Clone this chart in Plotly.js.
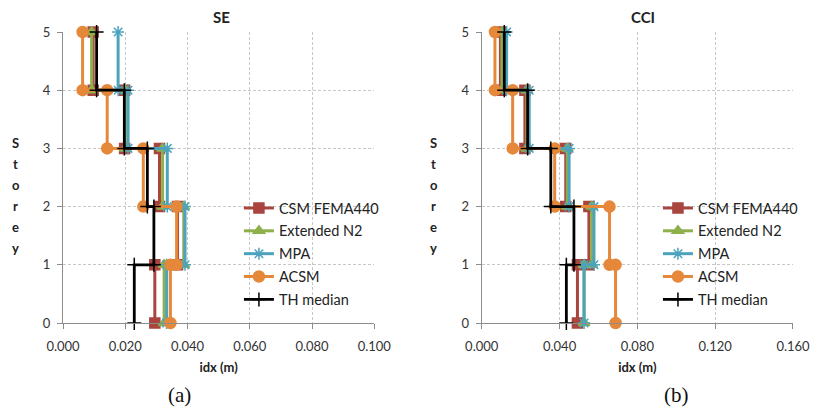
<!DOCTYPE html>
<html>
<head>
<meta charset="utf-8">
<script src="https://cdn.plot.ly/plotly-3.0.1.min.js"></script>
<style>
  html, body { margin: 0; padding: 0; background: #fff; }
  #chart { width: 815px; height: 410px; }
</style>
</head>
<body>
<div id="chart"></div>
<script>
// inter-storey drift per storey level (storey 1..5)
const storeys = [1, 2, 3, 4, 5]
const seriesNames = ["CSM FEMA440", "Extended N2", "MPA", "ACSM", "TH median"]

// (a) SE
const seCSM = [0.0295, 0.0368, 0.0310, 0.0198, 0.0097]
const seN2 = [0.0325, 0.0388, 0.0320, 0.0200, 0.0092]
const seMPA = [0.0333, 0.0392, 0.0335, 0.0209, 0.0177]
const seACSM = [0.0345, 0.0365, 0.0258, 0.0142, 0.0063]
const seTH = [0.0229, 0.0292, 0.0271, 0.0197, 0.0108]

// (b) CCI
const cciCSM = [0.0492, 0.0551, 0.0432, 0.0222, 0.0096]
const cciN2 = [0.0526, 0.0565, 0.0440, 0.0232, 0.0104]
const cciMPA = [0.0526, 0.0577, 0.0449, 0.0244, 0.0128]
const cciACSM = [0.0688, 0.0657, 0.0375, 0.0159, 0.0068]
const cciTH = [0.0435, 0.0474, 0.0355, 0.0236, 0.0116]

const seTicks = ["0.000", "0.020", "0.040", "0.060", "0.080", "0.100"]
const cciTicks = ["0.000", "0.040", "0.080", "0.120", "0.160"]

const styles = [
    { color: "#A9443F", symbol: "square", size: 10, width: 3 },
    { color: "#8EB04B", symbol: "triangle-up", size: 10, width: 3 },
    { color: "#4BA3BE", symbol: "asterisk-open", size: 10, width: 3 },
    { color: "#E5883A", symbol: "circle", size: 11, width: 3 },
    { color: "#000000", symbol: "cross-thin-open", size: 10, width: 2.8 }
]

// each storey is a vertical segment from floor (i) to ceiling (i + 1)
function stepTrace(values, idx, xaxis, yaxis, legend) {
    const x = [], y = []
    values.forEach((v, i) => {
        x.push(v, v)
        y.push(storeys[i] - 1, storeys[i])
    })
    const s = styles[idx]
    return {
        type: "scatter",
        mode: "lines+markers",
        name: seriesNames[idx],
        x: x,
        y: y,
        xaxis: xaxis,
        yaxis: yaxis,
        legend: legend,
        legendgroup: legend + idx,
        cliponaxis: false,
        line: { color: s.color, width: s.width },
        marker: { symbol: s.symbol, size: s.size, color: s.color, line: { color: s.color, width: 1.5 } }
    }
}

const data = []
;[seCSM, seN2, seMPA, seACSM, seTH].forEach((v, i) => data.push(stepTrace(v, i, "x", "y", "legend")))
;[cciCSM, cciN2, cciMPA, cciACSM, cciTH].forEach((v, i) => data.push(stepTrace(v, i, "x2", "y2", "legend2")))

const tickFont = { family: "Lato, sans-serif", size: 13, color: "#333" }
const gridColor = "#c8c8c8"

function xAxis(domain, ticks, max, anchor) {
    return {
        domain: domain,
        anchor: anchor,
        range: [0, max],
        tickvals: ticks.map(Number),
        ticktext: ticks,
        showgrid: true,
        gridcolor: gridColor,
        griddash: "3px,2px",
        zeroline: false,
        showline: true,
        linecolor: "#8c8c8c",
        ticks: "outside",
        ticklen: 5,
        tickcolor: "#8c8c8c",
        tickfont: tickFont,
        ticklabelstandoff: 6,
        title: { text: "<b>idx (m)</b>", font: { family: "Lato, sans-serif", size: 13, color: "#222" }, standoff: 10 }
    }
}

function yAxis(anchor) {
    return {
        anchor: anchor,
        range: [0, 5],
        tickvals: [0, 1, 2, 3, 4, 5],
        showgrid: true,
        gridcolor: gridColor,
        griddash: "3px,2px",
        zeroline: false,
        showline: true,
        linecolor: "#8c8c8c",
        ticks: "outside",
        ticklen: 5,
        tickcolor: "#8c8c8c",
        tickfont: tickFont,
        ticklabelstandoff: 4
    }
}

const legendBase = {
    font: { family: "Lato, sans-serif", size: 14.5, color: "#222" },
    bgcolor: "rgba(255,255,255,0)",
    xanchor: "left",
    yanchor: "top",
    tracegroupgap: 1,
    itemwidth: 30
}

const annotations = []
const letters = ["S", "t", "o", "r", "e", "y"]
;[-0.0646, 0.508].forEach(xp => {
    letters.forEach((ch, i) => {
        annotations.push({
            text: "<b>" + ch + "</b>", xref: "paper", yref: "paper",
            x: xp, xanchor: "center", y: 0.6186 - i * 0.0725, yanchor: "middle",
            borderpad: 0, showarrow: false,
            font: { family: "Lato, sans-serif", size: 13, color: "#222" }
        })
    })
})
const titleFont = { family: "Lato, sans-serif", size: 15, color: "#222" }
const labelFont = { family: "Liberation Serif, serif", size: 21, color: "#111" }
annotations.push(
    { text: "<b>SE</b>", xref: "paper", yref: "paper", x: 0.2166, xanchor: "center", y: 1.0, yanchor: "bottom", yshift: 4, showarrow: false, font: titleFont },
    { text: "<b>CCI</b>", xref: "paper", yref: "paper", x: 0.794, xanchor: "center", y: 1.0, yanchor: "bottom", yshift: 4, showarrow: false, font: titleFont },
    { text: "(a)", xref: "paper", yref: "paper", x: 0.159, xanchor: "center", y: -0.247, yanchor: "middle", showarrow: false, font: labelFont },
    { text: "(b)", xref: "paper", yref: "paper", x: 0.8406, xanchor: "center", y: -0.247, yanchor: "middle", showarrow: false, font: labelFont }
)

const layout = {
    width: 815,
    height: 410,
    margin: { l: 63, r: 18, t: 32, b: 87 },
    paper_bgcolor: "#fff",
    plot_bgcolor: "#fff",
    showlegend: true,
    xaxis: xAxis([0, 0.4264], seTicks, 0.1, "y"),
    yaxis: yAxis("x"),
    xaxis2: xAxis([0.5736, 1], cciTicks, 0.16, "y2"),
    yaxis2: yAxis("x2"),
    legend: Object.assign({}, legendBase, { x: 0.241, y: 0.45 }),
    legend2: Object.assign({}, legendBase, { x: 0.815, y: 0.45 }),
    annotations: annotations
}

Plotly.newPlot("chart", data, layout, { staticPlot: true, displayModeBar: false })
</script>
</body>
</html>
